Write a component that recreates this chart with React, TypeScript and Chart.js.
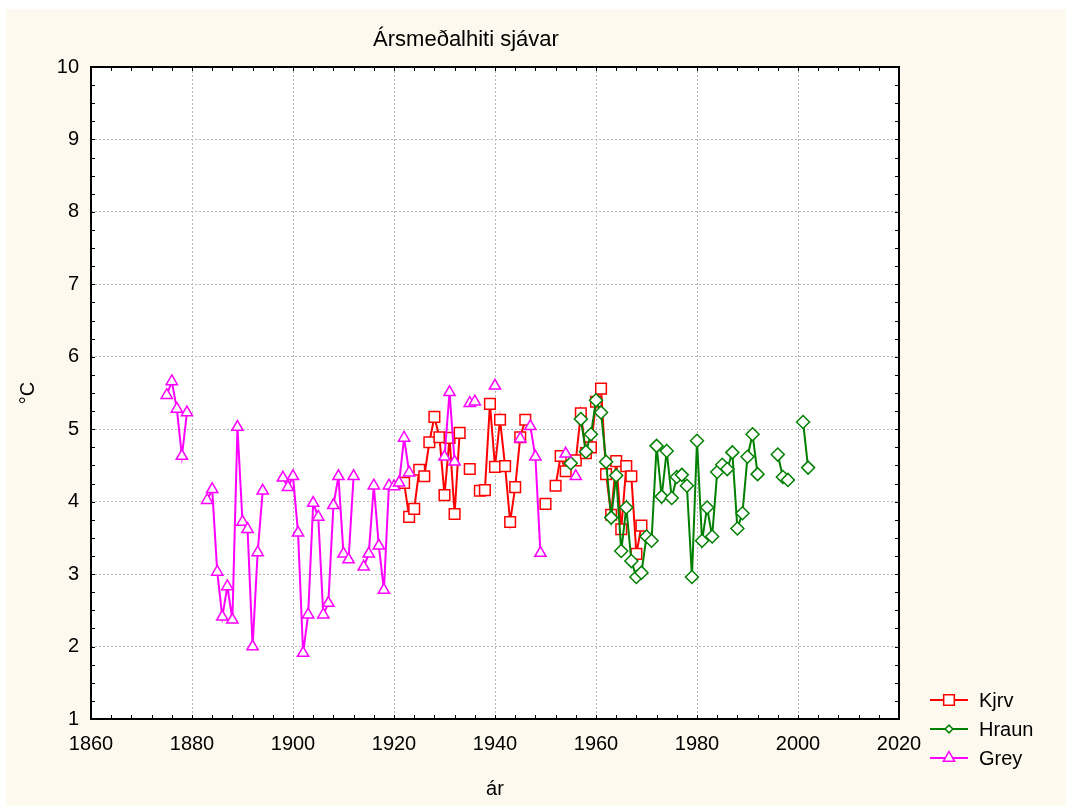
import React, { useEffect, useRef } from "react";
import { Chart, registerables } from "chart.js";

Chart.register(...registerables);

const N = null;

const chartTitle = "Ársmeðalhiti sjávar";
const xAxisTitle = "ár";
const yAxisTitle = "°C";

const xMin = 1860;
const xMax = 2020;
const xStep = 20;
const yMin = 1;
const yMax = 10;
const yStep = 1;

const seriesNames = ["Kjrv", "Hraun", "Grey"];

const kjrvStartYear = 1922;
const kjrvValues = [
  4.26, 3.79, 3.9, 4.44, 4.35, 4.82, 5.17, 4.89, 4.09, 4.88, 3.83, 4.95,
  N, 4.45, N,
  4.15, 4.16, 5.35, 4.48, 5.13, 4.49, 3.72, 4.2, 4.89, 5.13,
  N, N, N, 3.97, N,
  4.22, 4.63, 4.42, N,
  4.57, 5.22, 4.67, 4.75, 5.38, 5.56, 4.38, 3.82, 4.56, 3.62, 4.49, 4.35, 3.28, 3.67,
];

const hraunStartYear = 1955;
const hraunValues = [
  4.53, N,
  5.14, 4.69, 4.93, 5.4, 5.23, 4.55, 3.78, 4.36, 3.32, 3.92,
  3.18, 2.96, 3.02, 3.52, 3.46, 4.77, 4.07, 4.7, 4.05, 4.34,
  4.37, 4.22, 2.96, 4.84, 3.46, 3.92, 3.52, 4.41, 4.51, 4.45,
  4.68, 3.63, 3.84, 4.62, 4.93, 4.38,
  N, N, N,
  4.65, 4.34, 4.3,
  N, N,
  5.1, 4.47,
];

const greyStartYear = 1875;
const greyValues = [
  5.47, 5.66, 5.28, 4.63, 5.23,
  N, N, N,
  4.02, 4.17, 3.03, 2.41, 2.83, 2.37, 5.03, 3.72, 3.62, 2.0, 3.3, 4.15,
  N, N, N,
  4.33, 4.2, 4.35, 3.57, 1.91, 2.44, 3.98, 3.79, 2.44, 2.6, 3.95, 4.35, 3.28, 3.2, 4.35,
  N,
  3.1, 3.28, 4.22, 3.39, 2.78, 4.22, 4.21, 4.26, 4.88, 4.4,
  N, N, N, N, N, N,
  4.62, 5.51, 4.55,
  N, N,
  5.36, 5.38,
  N, N, N,
  5.6,
  N, N, N, N,
  4.87, N,
  5.04, 4.62, 3.29,
  N, N, N, N,
  4.66, N, 4.35,
];

const FONT = "'Liberation Sans', Arial, sans-serif";
const CREAM = "#fdf9ee";

function toPoints(start: number, values: (number | null)[]) {
  return values.map((v, i) => ({ x: start + i, y: v }));
}

function drawMarker(ctx: CanvasRenderingContext2D, style: string, x: number, y: number, r: number) {
  ctx.beginPath();
  if (style === "rect") {
    const s = Math.SQRT1_2 * r;
    ctx.rect(x - s, y - s, 2 * s, 2 * s);
  } else if (style === "rectRot") {
    const s = Math.SQRT1_2 * r;
    ctx.moveTo(x - s, y);
    ctx.lineTo(x, y + s);
    ctx.lineTo(x + s, y);
    ctx.lineTo(x, y - s);
    ctx.closePath();
  } else {
    ctx.moveTo(x, y - r);
    ctx.lineTo(x + r * Math.sin(Math.PI / 3), y + r / 2);
    ctx.lineTo(x - r * Math.sin(Math.PI / 3), y + r / 2);
    ctx.closePath();
  }
  ctx.fill();
  ctx.stroke();
}

const backgroundPlugin = {
  id: "bg",
  beforeDraw(chart: any) {
    const { ctx, width, height, chartArea } = chart;
    ctx.save();
    ctx.fillStyle = "#ffffff";
    ctx.fillRect(0, 0, width, height);
    ctx.fillStyle = CREAM;
    ctx.fillRect(6, 9, width - 6, height - 9);
    ctx.fillStyle = "#ffffff";
    ctx.fillRect(chartArea.left, chartArea.top, chartArea.right - chartArea.left, chartArea.bottom - chartArea.top);
    ctx.restore();
  },
};

const framePlugin = {
  id: "frame",
  beforeDatasetsDraw(chart: any) {
    const { ctx, chartArea } = chart;
    const { left, right, top, bottom } = chartArea;
    const xs = chart.scales.x;
    const ys = chart.scales.y;
    ctx.save();
    ctx.strokeStyle = "#000000";
    ctx.lineWidth = 1;
    const tl = 4;
    ctx.beginPath();
    for (let v = xMin; v <= xMax; v += 4) {
      const px = Math.round(xs.getPixelForValue(v)) + 0.5;
      ctx.moveTo(px, bottom);
      ctx.lineTo(px, bottom - tl);
      ctx.moveTo(px, top);
      ctx.lineTo(px, top + tl);
    }
    for (let v = yMin; v <= yMax + 1e-9; v += 0.25) {
      const py = Math.round(ys.getPixelForValue(v)) + 0.5;
      ctx.moveTo(left, py);
      ctx.lineTo(left + tl, py);
      ctx.moveTo(right, py);
      ctx.lineTo(right - tl, py);
    }
    ctx.stroke();
    ctx.lineWidth = 2;
    ctx.strokeRect(left, top, right - left, bottom - top);
    ctx.restore();
  },
};

const textPlugin = {
  id: "texts",
  afterDraw(chart: any) {
    const { ctx } = chart;
    ctx.save();
    ctx.fillStyle = "#000000";
    ctx.font = `22px ${FONT}`;
    ctx.textAlign = "center";
    ctx.textBaseline = "middle";
    ctx.fillText(chartTitle, 466, 40);

    ctx.font = `20px ${FONT}`;
    const rows = [700, 729, 758];
    chart.data.datasets.forEach((ds: any, i: number) => {
      const y = rows[i];
      ctx.strokeStyle = ds.borderColor;
      ctx.lineWidth = 2;
      ctx.beginPath();
      ctx.moveTo(930, y);
      ctx.lineTo(968, y);
      ctx.stroke();
      ctx.fillStyle = "#ffffff";
      ctx.lineWidth = ds.pointBorderWidth;
      drawMarker(ctx, ds.pointStyle, 949, y, ds.pointStyle === "rectRot" ? 5.5 : ds.pointRadius);
      ctx.fillStyle = "#000000";
      ctx.textAlign = "left";
      ctx.fillText(ds.label, 979, y + 1);
    });
    ctx.restore();
  },
};

export default function App() {
  const canvasRef = useRef<HTMLCanvasElement | null>(null);

  useEffect(() => {
    const canvas = canvasRef.current;
    if (!canvas) return;
    const common = {
      borderWidth: 2,
      pointBorderWidth: 1.5,
      pointBackgroundColor: "#ffffff",
      spanGaps: false,
      tension: 0,
    };
    const chart = new Chart(canvas, {
      type: "line",
      data: {
        datasets: [
          {
            ...common,
            label: seriesNames[0],
            data: toPoints(kjrvStartYear, kjrvValues),
            borderColor: "#ff0000",
            pointBorderColor: "#ff0000",
            pointStyle: "rect",
            pointRadius: 7.5,
            order: 3,
          },
          {
            ...common,
            label: seriesNames[1],
            data: toPoints(hraunStartYear, hraunValues),
            borderColor: "#008000",
            pointBorderColor: "#008000",
            pointStyle: "rectRot",
            pointRadius: 6.5,
            order: 2,
          },
          {
            ...common,
            label: seriesNames[2],
            data: toPoints(greyStartYear, greyValues),
            borderColor: "#ff00ff",
            pointBorderColor: "#ff00ff",
            pointStyle: "triangle",
            pointRadius: 6.5,
            order: 1,
          },
        ] as any,
      },
      options: {
        animation: false,
        responsive: false,
        devicePixelRatio: 1,
        layout: { padding: { top: 67, right: 167, left: 0, bottom: 0 } },
        plugins: {
          legend: { display: false },
          tooltip: { enabled: false },
          title: { display: false },
        },
        scales: {
          x: {
            type: "linear",
            min: xMin,
            max: xMax,
            afterFit: (s: any) => {
              s.height = 87;
            },
            ticks: {
              stepSize: xStep,
              color: "#000000",
              font: { family: FONT, size: 20 },
              padding: 13,
              maxRotation: 0,
              callback: (v: any) => String(v),
            },
            grid: {
              color: "#b8b8b8",
              lineWidth: 1,
              drawTicks: false,
              tickLength: 0,
            },
            border: { display: false, dash: [2, 2] },
            title: {
              display: true,
              text: xAxisTitle,
              color: "#000000",
              font: { family: FONT, size: 20 },
              padding: { top: 0, bottom: 5 },
            },
          },
          y: {
            type: "linear",
            min: yMin,
            max: yMax,
            afterFit: (s: any) => {
              s.width = 91;
            },
            ticks: {
              stepSize: yStep,
              color: "#000000",
              font: { family: FONT, size: 20 },
              padding: 12,
              callback: (v: any) => String(v),
            },
            grid: {
              color: "#b8b8b8",
              lineWidth: 1,
              drawTicks: false,
              tickLength: 0,
            },
            border: { display: false, dash: [2, 2] },
            title: {
              display: true,
              text: yAxisTitle,
              color: "#000000",
              font: { family: FONT, size: 20 },
              padding: { top: 16, bottom: 0 },
            },
          },
        },
      } as any,
      plugins: [backgroundPlugin, framePlugin, textPlugin],
    });
    return () => chart.destroy();
  }, []);

  return (
    <canvas
      ref={canvasRef}
      width={1066}
      height={806}
      style={{ position: "fixed", left: 0, top: 0, width: 1066, height: 806, display: "block" }}
    />
  );
}
